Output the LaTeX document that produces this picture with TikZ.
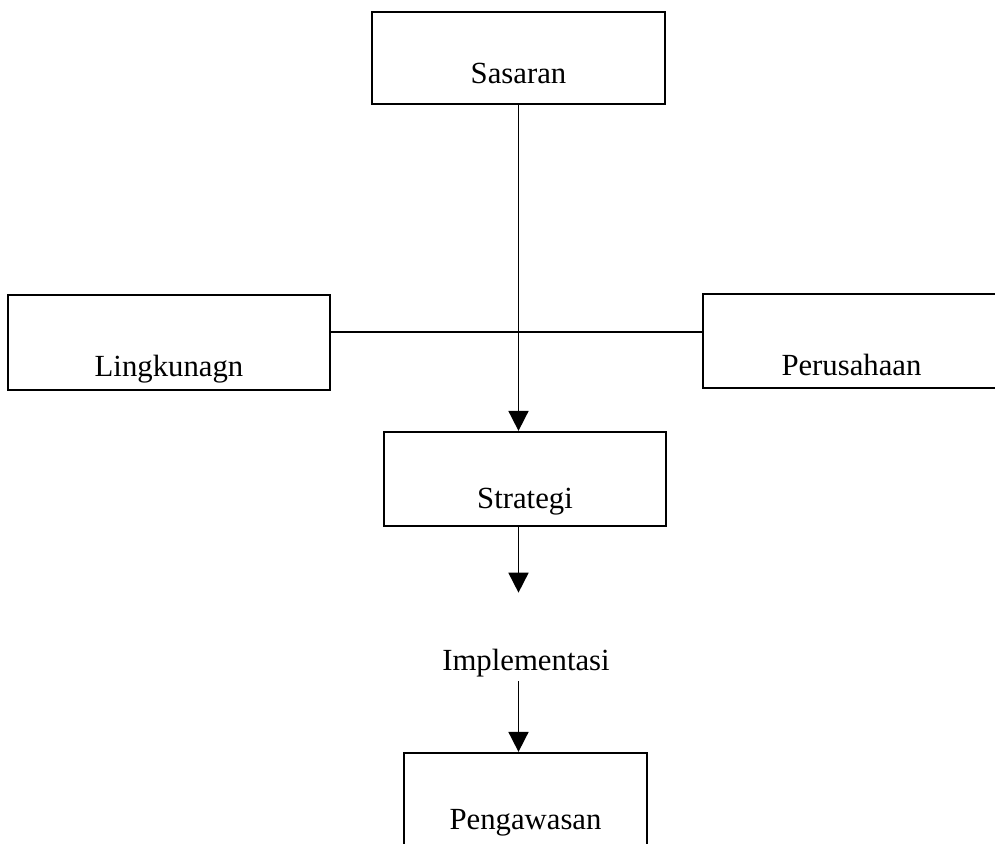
\documentclass[tikz,border=0pt]{standalone}
\usepackage{fontspec}
\setmainfont{Liberation Serif}
\usetikzlibrary{arrows.meta}

\begin{document}
\begin{tikzpicture}[x=0.02cm, y=-0.02cm,
        box/.style={draw, line width=1.3pt, inner xsep=0pt, inner ysep=0pt, font=\fontsize{17.5}{20}\selectfont},
        bare/.style={inner xsep=0pt, inner ysep=0pt, font=\fontsize{17.5}{20}\selectfont},
        link/.style={line width=1pt},
        tip/.style={-{Triangle[length=0.4cm, width=0.4cm]}, line width=1pt}]
        \useasboundingbox (0,0) rectangle (995,843);
        \clip (0,0) rectangle (995,843);
        \node[box, minimum width=5.86cm, text height=1.42cm, text depth=0.42cm] (sasaran) at (518.5,58) {Sasaran};
        \node[box, minimum width=6.44cm, text height=1.62cm, text depth=0.28cm] (lingkungan) at (169,342.5) {Lingkunagn};
        \node[box, minimum width=5.94cm, text height=1.62cm, text depth=0.26cm] (perusahaan) at (851.5,341) {Perusahaan};
        \node[box, minimum width=5.64cm, text height=1.52cm, text depth=0.36cm] (strategi) at (525,479) {Strategi};
        \node[bare, minimum width=5.12cm, text height=1.54cm, text depth=0.22cm] (implementasi) at (526,637) {Implementasi};
        \node[box, minimum width=4.86cm, text height=1.52cm, text depth=0.68cm] (pengawasan) at (525.5,808) {Pengawasan};
        \coordinate (junction) at (517,332);
        \draw[link] (lingkungan.east |- junction) -- (perusahaan.west |- junction);
        \draw[tip] (sasaran.south) -- (strategi.north -| sasaran.south);
        \draw[tip] (strategi.south -| sasaran.south) -- (implementasi.north -| sasaran.south);
        \draw[tip] (implementasi.south -| sasaran.south) -- (pengawasan.north -| sasaran.south);
    \end{tikzpicture}
\end{document}
